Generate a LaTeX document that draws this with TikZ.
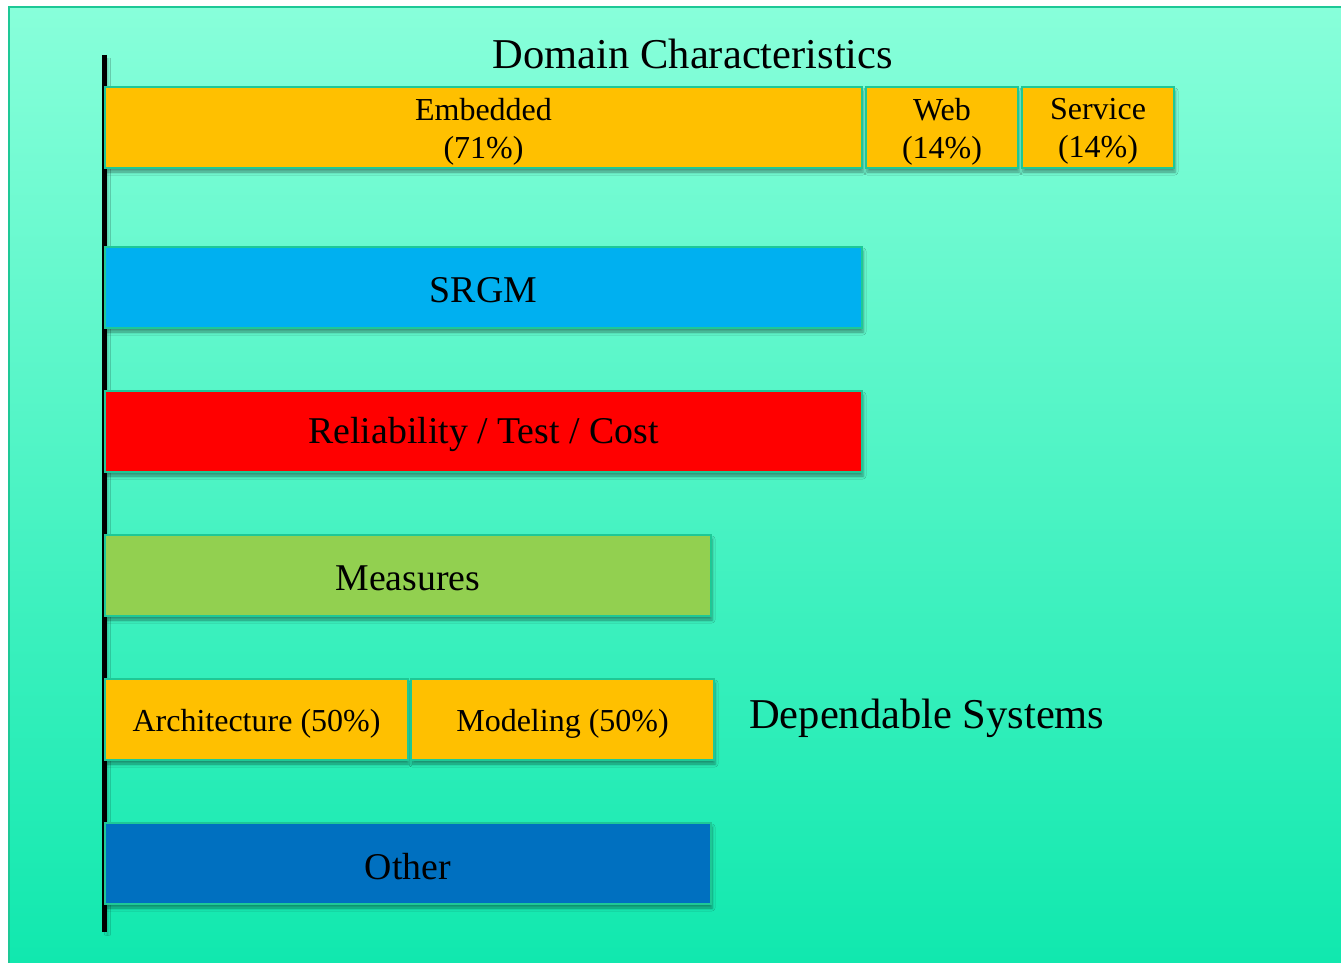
\documentclass[tikz,border=0pt]{standalone}
\usepackage{fontspec}
\setmainfont{Liberation Serif}
\usetikzlibrary{shadows,shadows.blur}
\definecolor{bgtop}{RGB}{136,255,218}
\definecolor{bgbot}{RGB}{16,232,174}
\definecolor{edge}{RGB}{30,200,150}
\definecolor{gold}{RGB}{255,192,0}
\definecolor{skyb}{RGB}{0,176,240}
\definecolor{redc}{RGB}{255,0,0}
\definecolor{lgreen}{RGB}{146,208,80}
\definecolor{dblue}{RGB}{0,112,192}
\tikzset{
  box/.style={draw=edge, line width=2pt, anchor=north west, inner sep=0pt,
    minimum height=81pt,
    blur shadow={shadow xshift=1pt, shadow yshift=-4pt, shadow blur radius=3pt, shadow opacity=40}},
  bigtxt/.style={font=\fontsize{37.8}{44}\selectfont, text=black, inner sep=0pt, yshift=-3pt},
  smalltxt/.style={font=\fontsize{32}{38}\selectfont, text=black, inner sep=0pt, align=center, yshift=-4pt},
  label/.style={font=\fontsize{42.5}{48}\selectfont, text=black, inner sep=0pt}
}
\begin{document}
\begin{tikzpicture}[x=1pt,y=-1pt]
\useasboundingbox (0,0) rectangle (1341,963);
\shade[top color=bgtop, bottom color=bgbot] (9,7) rectangle (1345,967);
\draw[edge, line width=2pt] (9,967) -- (9,7) -- (1345,7);
% axis bar
\coordinate (bartop) at (104.5,55);
\coordinate (barbot) at (104.5,932);
\draw[line width=5pt, blur shadow={shadow xshift=3pt, shadow yshift=-3pt, shadow blur radius=3pt, shadow opacity=30}] (bartop) -- (barbot);
% title
\node[label] (title) at (693,54) {Domain Characteristics};
% row 1
\node[box, fill=gold, minimum width=757pt] (emb) at (104,86) {};
\node[smalltxt] (embt) at (emb.center) {Embedded\\(71\%)};
\node[box, fill=gold, minimum width=152pt] (web) at (865,86) {};
\node[smalltxt] (webt) at (web.center) {Web\\(14\%)};
\node[box, fill=gold, minimum width=152pt] (srv) at (1021,86) {};
\node[smalltxt] (srvt) at (srv.center) {Service\\(14\%)};
% row 2
\node[box, fill=skyb, minimum width=757pt] (srgm) at (104,246) {};
\node[bigtxt] (srgmt) at (srgm.center) {SRGM};
% row 3
\node[box, fill=redc, minimum width=757pt] (rel) at (104,390) {};
\node[bigtxt] (relt) at (rel.center) {Reliability / Test / Cost};
% row 4
\node[box, fill=lgreen, minimum width=606pt] (meas) at (104,534) {};
\node[bigtxt] (meast) at (meas.center) {Measures};
% row 5
\node[box, fill=gold, minimum width=303pt] (arch) at (104,678) {};
\node[smalltxt] (archt) at (arch.center) {Architecture (50\%)};
\node[box, fill=gold, minimum width=303pt] (mod) at (410,678) {};
\node[smalltxt] (modt) at (mod.center) {Modeling (50\%)};
\node[label, anchor=west] (dep) at (749,718) {Dependable Systems};
% row 6
\node[box, fill=dblue, minimum width=606pt] (oth) at (104,822) {};
\node[bigtxt] (otht) at (oth.center) {Other};
\end{tikzpicture}
\end{document}
